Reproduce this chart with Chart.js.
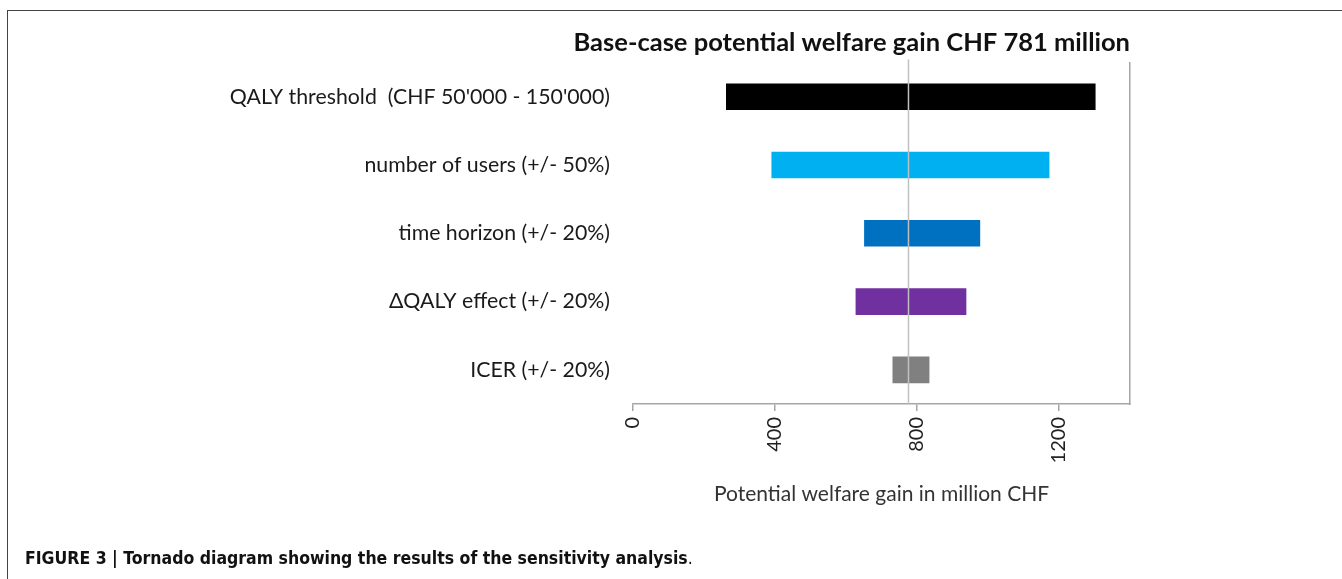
<!DOCTYPE html>
<html>
<head>
<meta charset="utf-8">
<script src="https://cdn.jsdelivr.net/npm/chart.js@4.4.0/dist/chart.umd.min.js"></script>
<style>
  body { margin: 0; background: #fff; }
  #wrap { position: relative; width: 1342px; height: 579px; overflow: hidden; }
  #frame { position: absolute; left: 7px; top: 10px; right: 0; bottom: 0;
           border-top: 1px solid #444; border-left: 1px solid #444; }
  #caption { position: absolute; left: 25px; top: 548px; font-family: "Liberation Sans Narrow", "DejaVu Sans Condensed", sans-serif;
             font-size: 17.5px; font-weight: bold; color: #111; }
  #caption span { font-weight: normal; }
  canvas { position: absolute; left: 0; top: 0; }
</style>
</head>
<body>
<div id="wrap">
  <div id="frame"></div>
  <canvas id="tornado" width="1342" height="579"></canvas>
  <div id="caption">FIGURE 3 | Tornado diagram showing the results of the sensitivity analysis<span>.</span></div>
</div>
<script>
// data
const categories = [
  "QALY threshold  (CHF 50'000 - 150'000)",
  "number of users (+/- 50%)",
  "time horizon (+/- 20%)",
  "\u0394QALY effect (+/- 20%)",
  "ICER (+/- 20%)"
];
const lowValues = [262, 390, 651, 627, 731];
const highValues = [1303, 1173, 978, 939, 835];
const baseCase = 776;
const xTicks = [0, 400, 800, 1200];
const xMax = 1400;
const barColors = ["#000000", "#00B0F0", "#0070C0", "#7030A0", "#808080"];

Chart.defaults.font.family = "Lato, 'Open Sans', sans-serif";
Chart.defaults.color = "#1a1a1a";

// vertical line for the base case, drawn over the bars
const baseLine = {
  id: "baseLine",
  afterDatasetsDraw(chart) {
    const x = chart.scales.x.getPixelForValue(baseCase);
    const ctx = chart.ctx;
    ctx.save();
    ctx.strokeStyle = "#C0C0C0";
    ctx.lineWidth = 1.5;
    ctx.beginPath();
    ctx.moveTo(x, chart.chartArea.top - 3);
    ctx.lineTo(x, chart.chartArea.bottom);
    ctx.stroke();
    ctx.restore();
  }
};

new Chart(document.getElementById("tornado"), {
  type: "bar",
  data: {
    labels: categories,
    datasets: [{
      data: lowValues.map((v, i) => [v, highValues[i]]),
      backgroundColor: barColors,
      borderWidth: 0,
      borderSkipped: false,
      barPercentage: 0.39,
      categoryPercentage: 1
    }]
  },
  options: {
    indexAxis: "y",
    responsive: false,
    animation: false,
    layout: { padding: { left: 0, right: 212, top: 0, bottom: 70 } },
    plugins: {
      legend: { display: false },
      tooltip: { enabled: false },
      title: {
        display: true,
        text: "Base-case potential welfare gain CHF 781 million",
        align: "end",
        font: { size: 25.5, weight: "bold" },
        color: "#111",
        padding: { top: 27, bottom: 5 }
      }
    },
    scales: {
      x: {
        min: 0,
        max: xMax,
        afterFit(scale) { scale.height = 105; },
        afterBuildTicks(scale) { scale.ticks = xTicks.map(v => ({ value: v })); },
        ticks: {
          minRotation: 90, maxRotation: 90, padding: 6, font: { size: 20 }, color: "#222",
          callback: v => String(v)
        },
        grid: { drawOnChartArea: false, drawTicks: true, tickLength: 7, color: "#A6A6A6", lineWidth: 1.5 },
        border: { display: true, color: "#A6A6A6", width: 1.5 },
        title: {
          display: true,
          text: "Potential welfare gain in million CHF",
          font: { size: 21 },
          color: "#333",
          padding: { top: 0, bottom: 2 }
        }
      },
      y: {
        afterFit(scale) { scale.width = 633; },
        grid: { display: false, drawTicks: false },
        border: { display: false },
        ticks: { padding: 23, font: { size: 21.3 }, color: "#1a1a1a" }
      },
      y2: {
        position: "right",
        afterFit(scale) { scale.width = 0; },
        ticks: { display: false },
        grid: { display: false, drawTicks: false },
        border: { display: true, color: "#A6A6A6", width: 1.5 }
      }
    }
  },
  plugins: [baseLine]
});
</script>
</body>
</html>
